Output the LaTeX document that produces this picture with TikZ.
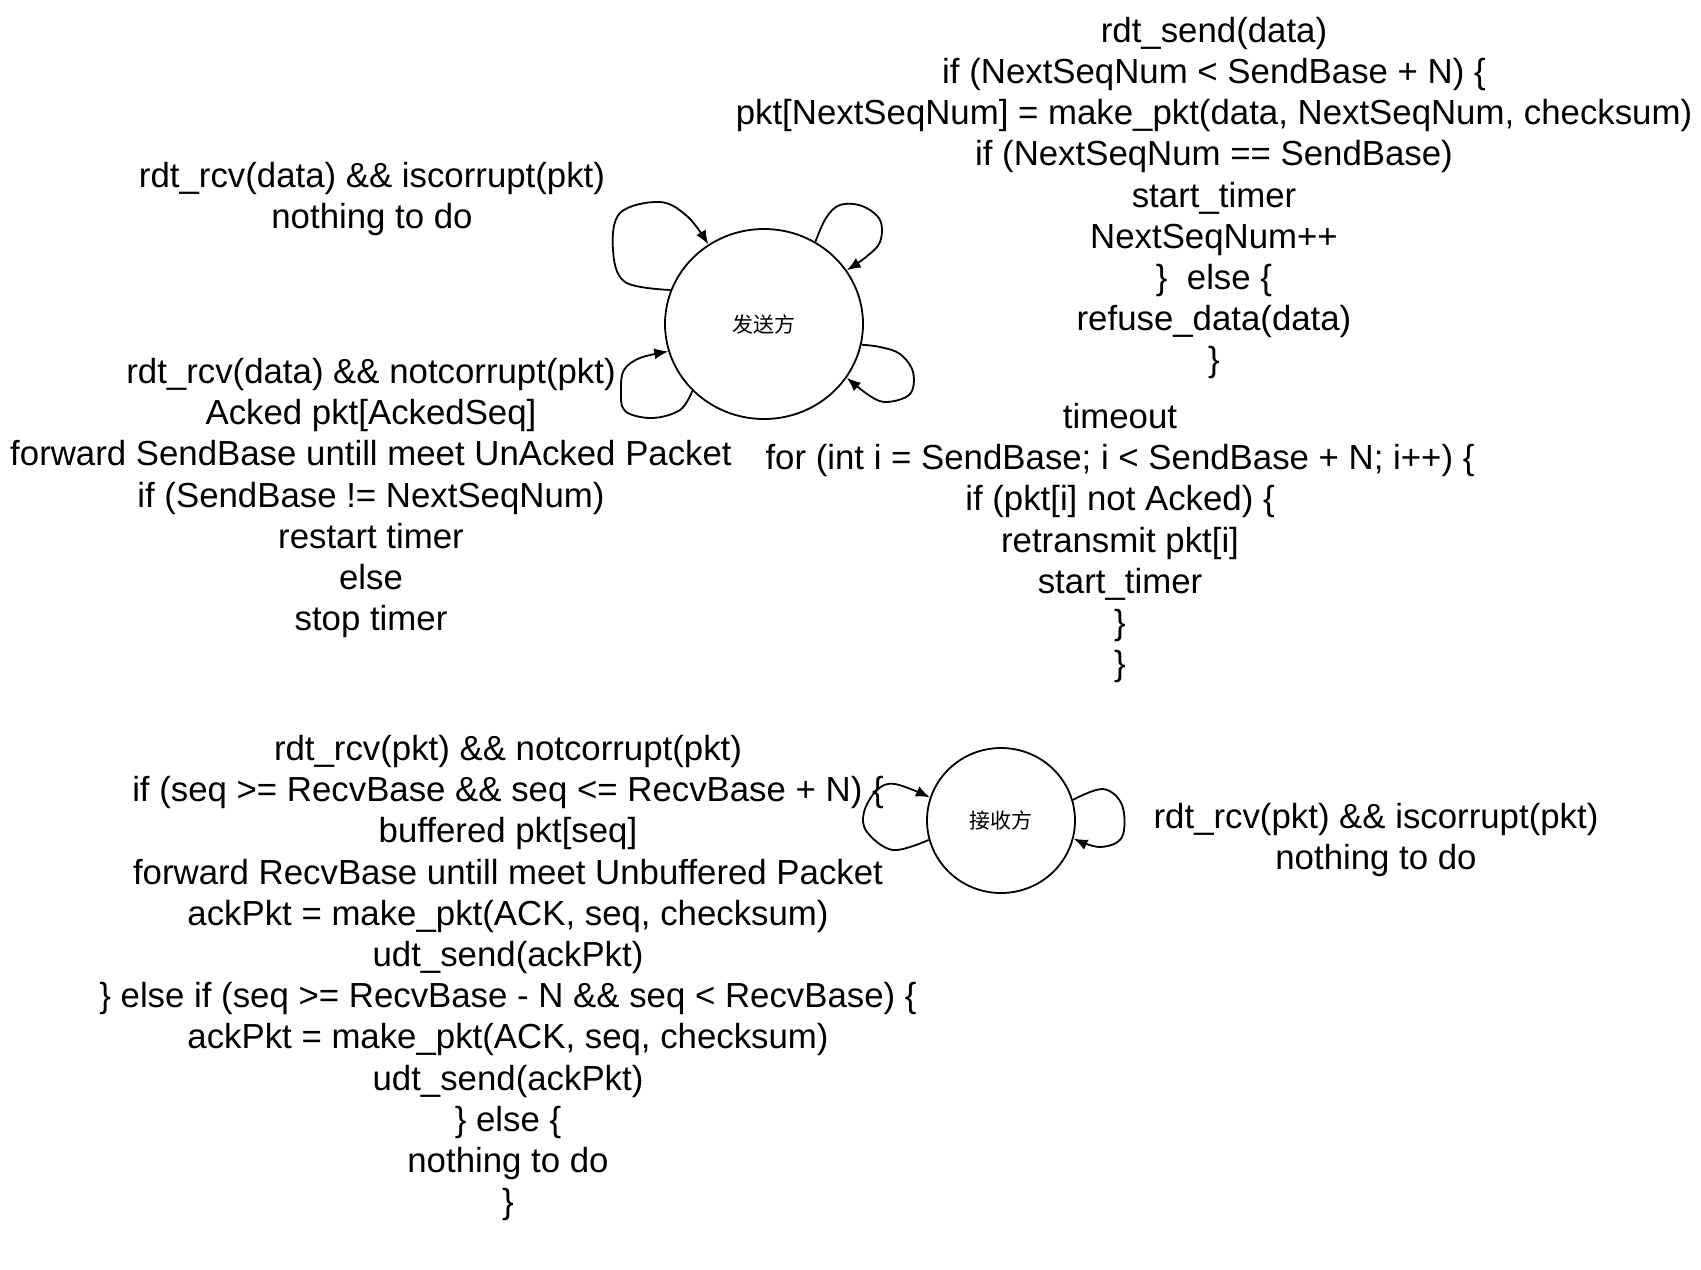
\documentclass[tikz,border=0pt]{standalone}
\usepackage{fontspec}
\setmainfont{Liberation Sans}
\newfontfamily\cjk{Noto Sans CJK SC}
\usetikzlibrary{arrows.meta,shapes.geometric}
\begin{document}
\begin{tikzpicture}[x=0.5pt,y=-0.5pt,
  state/.style={draw, ellipse, line width=0.9pt, inner sep=0pt, font=\cjk\fontsize{10.5}{12}\selectfont},
  lbl/.style={align=center, inner sep=0pt, font=\fontsize{17.4}{20.6}\selectfont},
  selfloop/.style={line width=0.9pt, -{Latex[length=7pt,width=5.5pt]}}]
\useasboundingbox (0,0) rectangle (1701,1269);

\node[state, minimum width=99pt, minimum height=95pt] (s) at (764,324) {发送方};
\node[state, minimum width=74pt, minimum height=72.5pt] (r) at (1001,820.5) {接收方};

\node[lbl] (t1) at (1214,198) {rdt\_send(data)\\
if (NextSeqNum < SendBase + N) \{\\
pkt[NextSeqNum] = make\_pkt(data, NextSeqNum, checksum)\\
if (NextSeqNum == SendBase)\\
start\_timer\\
NextSeqNum++\\
\}\ \ else \{\\
refuse\_data(data)\\
\}};

\node[lbl] (t2) at (372,199) {rdt\_rcv(data) \&\& iscorrupt(pkt)\\ nothing to do};

\node[lbl] (t3) at (371,498) {rdt\_rcv(data) \&\& notcorrupt(pkt)\\
Acked pkt[AckedSeq]\\
forward SendBase untill meet UnAcked Packet\\
if (SendBase != NextSeqNum)\\
restart timer\\
else\\
stop timer};

\node[lbl] (t4) at (1120,543) {timeout\\
for (int i = SendBase; i < SendBase + N; i++) \{\\
if (pkt[i] not Acked) \{\\
retransmit pkt[i]\\
start\_timer\\
\}\\
\}};

\node[lbl] (t5) at (508,978) {rdt\_rcv(pkt) \&\& notcorrupt(pkt)\\
if (seq >= RecvBase \&\& seq <= RecvBase + N) \{\\
buffered pkt[seq]\\
forward RecvBase untill meet Unbuffered Packet\\
ackPkt = make\_pkt(ACK, seq, checksum)\\
udt\_send(ackPkt)\\
\} else if (seq >= RecvBase - N \&\& seq < RecvBase) \{\\
ackPkt = make\_pkt(ACK, seq, checksum)\\
udt\_send(ackPkt)\\
\} else \{\\
nothing to do\\
\}};

\node[lbl] (t6) at (1376,840) {rdt\_rcv(pkt) \&\& iscorrupt(pkt)\\ nothing to do};

% sender self loops
\draw[selfloop] plot[smooth, tension=0.6] coordinates {(s.160.7) (625,282) (613,250) (620,213) (660,202) (688,217) (s.125.6)};
\draw[selfloop] plot[smooth, tension=0.6] coordinates {(s.58) (826,218) (840,205) (862,206) (880,220) (880,242) (866,257) (s.33.7)};
\draw[selfloop] plot[smooth, tension=0.6] coordinates {(s.-12) (880,347) (900,354) (913,372) (910,394) (887,402) (870,396) (s.-33.7)};
\draw[selfloop] plot[smooth, tension=0.6] coordinates {(s.223.8) (680,410) (652,418) (625,411) (621,390) (624,370) (640,358) (s.196.8)};

% receiver self loops
\draw[selfloop] plot[smooth, tension=0.6] coordinates {(r.195) (893,850) (867,832) (864,812) (877,790) (895,784) (r.162)};
\draw[selfloop] plot[smooth, tension=0.6] coordinates {(r.16) (1103,789) (1122,805) (1122,837) (1100,847) (r.-14)};
\end{tikzpicture}
\end{document}
